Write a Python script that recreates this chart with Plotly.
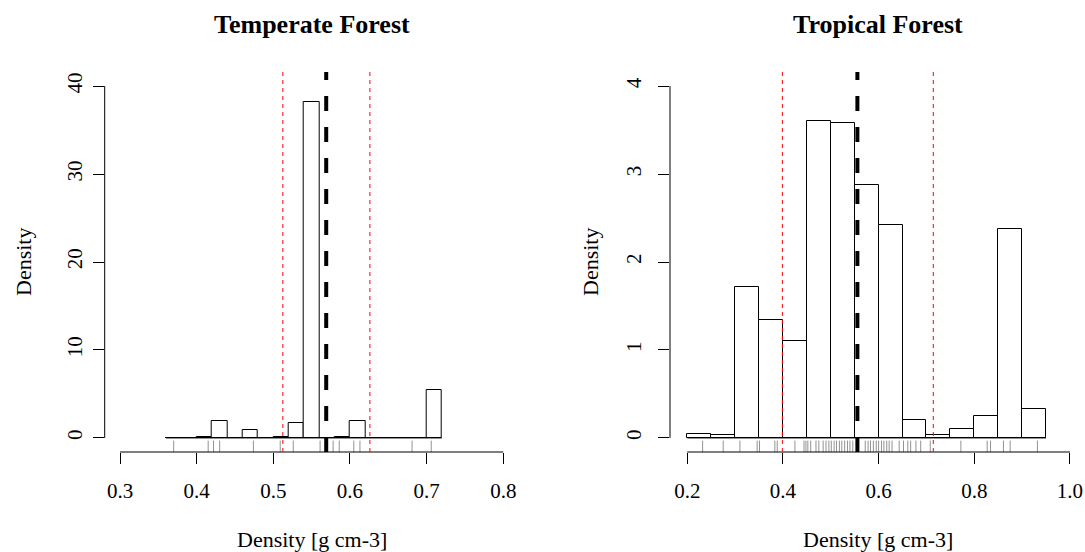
import plotly.graph_objects as go

# ---------------- data ----------------
temp_edges = [0.36, 0.38, 0.40, 0.42, 0.44, 0.46, 0.48, 0.50, 0.52, 0.54,
              0.56, 0.58, 0.60, 0.62, 0.64, 0.66, 0.68, 0.70, 0.72]
temp_density = [0, 0, 0.1, 1.93, 0, 0.88, 0, 0.1, 1.67, 38.2,
                0, 0.1, 1.93, 0, 0, 0, 0, 5.42]
temp_rug = [0.370, 0.415, 0.422, 0.430, 0.474, 0.509, 0.526, 0.561, 0.569,
            0.578, 0.586, 0.605, 0.613, 0.681, 0.706]
temp_mean = 0.569
temp_ci = [0.5124, 0.626]

trop_edges = [0.20, 0.25, 0.30, 0.35, 0.40, 0.45, 0.50, 0.55, 0.60, 0.65,
              0.70, 0.75, 0.80, 0.85, 0.90, 0.95]
trop_density = [0.05, 0.03, 1.72, 1.34, 1.10, 3.60, 3.58, 2.88, 2.42, 0.20,
                0.03, 0.10, 0.25, 2.38, 0.33]
trop_rug = [0.232, 0.275, 0.310, 0.346, 0.351, 0.383, 0.388, 0.425, 0.444,
            0.448, 0.452, 0.458, 0.469, 0.475, 0.484, 0.490, 0.496, 0.501,
            0.507, 0.512, 0.518, 0.523, 0.529, 0.535, 0.540, 0.546, 0.558,
            0.572, 0.578, 0.583, 0.589, 0.595, 0.600, 0.606, 0.611, 0.617,
            0.622, 0.628, 0.643, 0.652, 0.661, 0.667, 0.678, 0.688, 0.708,
            0.772, 0.827, 0.834, 0.861, 0.875, 0.932]
trop_mean = 0.5556
trop_ci = [0.3987, 0.7143]

titles = ["Temperate Forest", "Tropical Forest"]
x_title = "Density [g cm-3]"
y_title = "Density"

temp_xticks = [0.3, 0.4, 0.5, 0.6, 0.7, 0.8]
temp_xticktext = ["0.3", "0.4", "0.5", "0.6", "0.7", "0.8"]
temp_yticks = [0, 10, 20, 30, 40]
temp_yticktext = ["0", "10", "20", "30", "40"]
trop_xticks = [0.2, 0.4, 0.6, 0.8, 1.0]
trop_xticktext = ["0.2", "0.4", "0.6", "0.8", "1.0"]
trop_yticks = [0, 1, 2, 3, 4]
trop_yticktext = ["0", "1", "2", "3", "4"]

# ---------------- layout geometry ----------------
W, H = 1085, 552
FONT = "Liberation Serif"
TICK_SIZE = 21
LAB_SIZE = 22
TITLE_SIZE = 26

temp_xrange = [0.28, 0.82]
temp_yrange = [-1.6, 41.6]
trop_xrange = [0.1638, 1.0315]
trop_yrange = [-0.16, 4.16]

ydom = [(H - 452) / H, (H - 72) / H]
xdom1 = [104.7 / W, 518.6 / W]
xdom2 = [670 / W, 1.0]

fig = go.Figure()


def add_panel(edges, dens, rug, mean, ci, xr, yr, xref, yref, xticks, yticks):
    centers = [(a + b) / 2 for a, b in zip(edges[:-1], edges[1:])]
    widths = [b - a for a, b in zip(edges[:-1], edges[1:])]
    fig.add_trace(go.Bar(
        x=centers, y=dens, width=widths,
        marker=dict(color="white", line=dict(color="black", width=1)),
        xaxis=xref, yaxis=yref, showlegend=False, hoverinfo="x+y"))
    # rug
    rx, ry = [], []
    y0 = yr[0]
    y1 = yr[0] + 0.03 * (yr[1] - yr[0])
    for v in rug:
        rx += [v, v, None]
        ry += [y0, y1, None]
    fig.add_trace(go.Scatter(x=rx, y=ry, mode="lines",
                             line=dict(color="#8f9490", width=1),
                             xaxis=xref, yaxis=yref, showlegend=False,
                             hoverinfo="skip"))
    xa = "x" if xref == "x" else "x2"
    ya = "y" if yref == "y" else "y2"
    # baseline of histogram
    fig.add_shape(type="line", xref=xa, yref=ya, x0=edges[0], x1=edges[-1],
                  y0=0, y1=0, line=dict(color="black", width=1))
    # axis lines (R style, from first to last tick)
    fig.add_shape(type="line", xref=xa, yref=ya + " domain",
                  x0=xticks[0], x1=xticks[-1], y0=0, y1=0,
                  line=dict(color="black", width=1))
    fig.add_shape(type="line", xref=xa + " domain", yref=ya,
                  x0=0, x1=0, y0=yticks[0], y1=yticks[-1],
                  line=dict(color="black", width=1))
    # CI lines
    for c in ci:
        fig.add_shape(type="line", xref=xa, yref=ya + " domain",
                      x0=c, x1=c, y0=0, y1=1,
                      line=dict(color="red", width=1, dash="4px,4px"))
    fig.add_shape(type="line", xref=xa, yref=ya + " domain",
                  x0=mean, x1=mean, y0=0, y1=1,
                  line=dict(color="black", width=4, dash="15px,16px"))


add_panel(temp_edges, temp_density, temp_rug, temp_mean, temp_ci,
          temp_xrange, temp_yrange, "x", "y", temp_xticks, temp_yticks)
add_panel(trop_edges, trop_density, trop_rug, trop_mean, trop_ci,
          trop_xrange, trop_yrange, "x2", "y2", trop_xticks, trop_yticks)

axis_common = dict(showgrid=False, zeroline=False, showline=False,
                   ticks="outside", ticklen=11, tickwidth=1,
                   tickcolor="black",
                   tickfont=dict(family=FONT, size=TICK_SIZE, color="black"))

fig.update_layout(
    width=W, height=H, autosize=False,
    margin=dict(l=0, r=0, t=0, b=0),
    paper_bgcolor="white", plot_bgcolor="white",
    bargap=0,
    xaxis=dict(domain=xdom1, range=temp_xrange, anchor="y",
               tickvals=temp_xticks, ticktext=temp_xticktext,
               ticklabelstandoff=9, **axis_common),
    yaxis=dict(domain=ydom, range=temp_yrange, anchor="x",
               tickvals=temp_yticks, ticktext=temp_yticktext,
               tickangle=-90, ticklabelstandoff=2, **axis_common),
    xaxis2=dict(domain=xdom2, range=trop_xrange, anchor="y2",
                tickvals=trop_xticks, ticktext=trop_xticktext,
                ticklabelstandoff=9, **axis_common),
    yaxis2=dict(domain=ydom, range=trop_yrange, anchor="x2",
                tickvals=trop_yticks, ticktext=trop_yticktext,
                tickangle=-90, ticklabelstandoff=9, **axis_common),
)

ann = []
for cx, t in zip([(xdom1[0] + xdom1[1]) / 2, (xdom2[0] + xdom2[1]) / 2], titles):
    ann.append(dict(text="<b>" + t + "</b>", x=cx, y=(H - 25) / H,
                    xref="paper", yref="paper", showarrow=False,
                    xanchor="center", yanchor="middle",
                    font=dict(family=FONT, size=TITLE_SIZE, color="black")))
    ann.append(dict(text=x_title, x=cx, y=(H - 539) / H,
                    xref="paper", yref="paper", showarrow=False,
                    xanchor="center", yanchor="middle",
                    font=dict(family=FONT, size=LAB_SIZE, color="black")))
for px in [23, 590]:
    ann.append(dict(text=y_title, x=px / W, y=(ydom[0] + ydom[1]) / 2,
                    xref="paper", yref="paper", showarrow=False,
                    xanchor="center", yanchor="middle", textangle=-90,
                    font=dict(family=FONT, size=LAB_SIZE, color="black")))
fig.update_layout(annotations=ann)

fig.write_html("out.html", config={"displayModeBar": False},
               post_script="document.body.style.margin='0';document.body.style.padding='0';")
